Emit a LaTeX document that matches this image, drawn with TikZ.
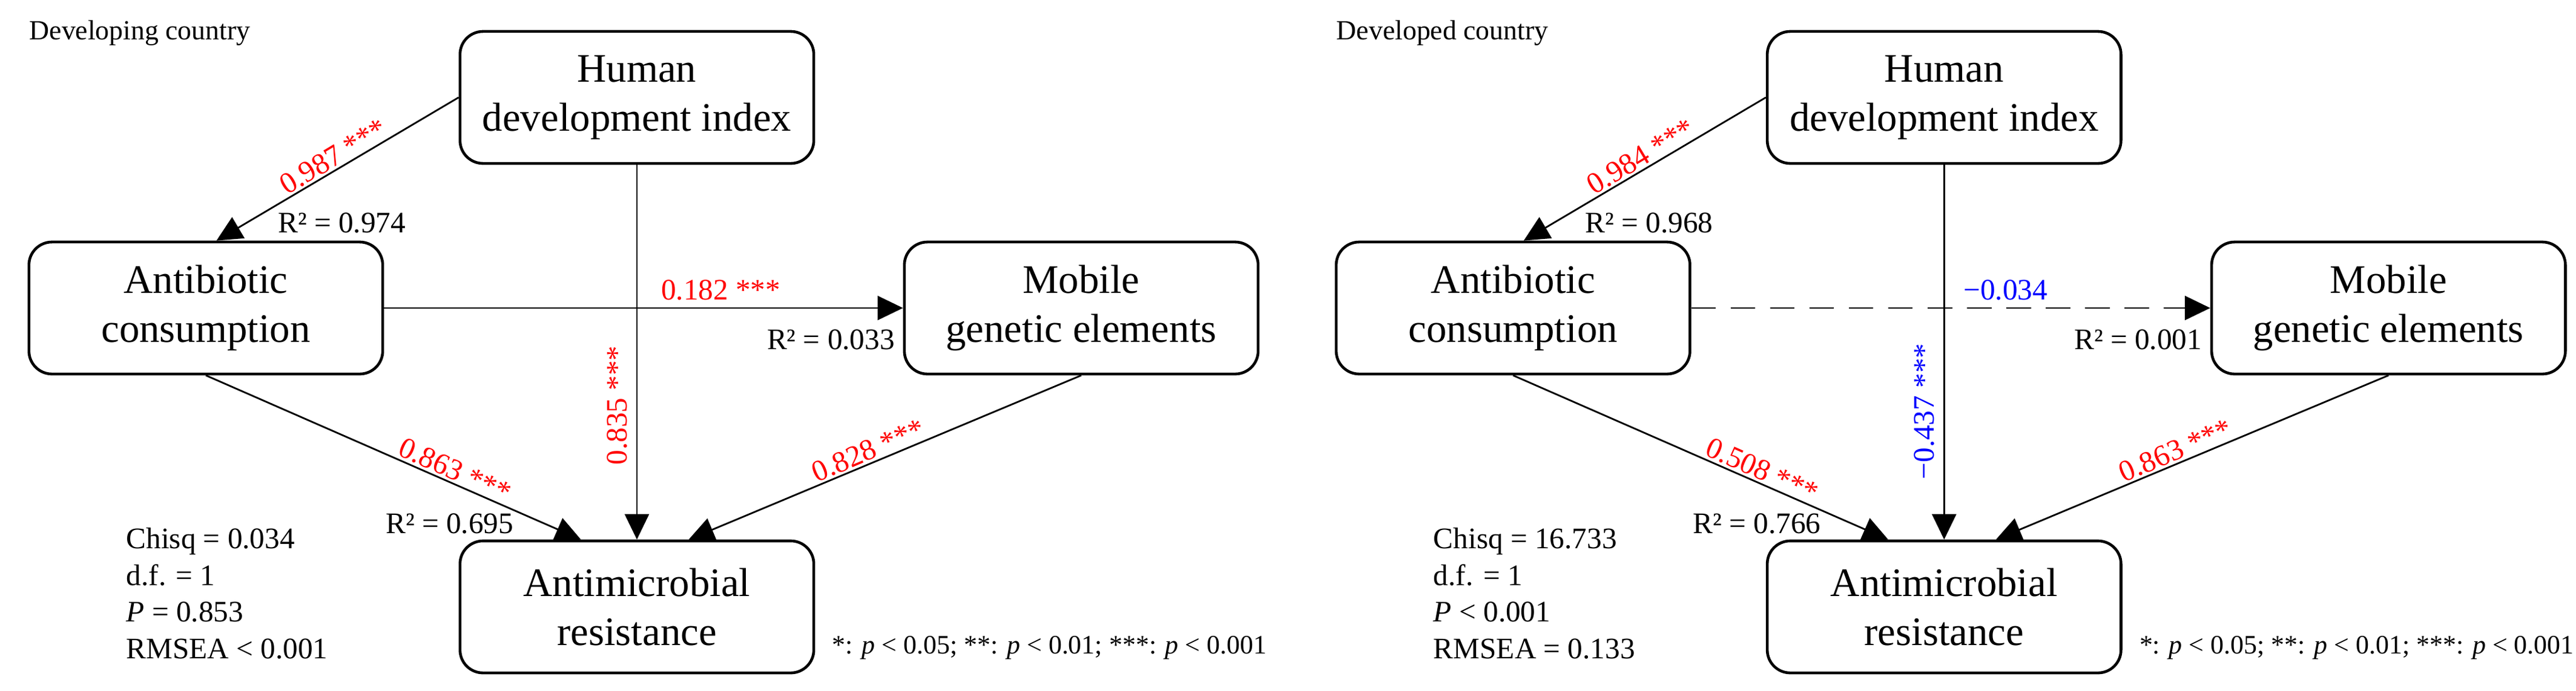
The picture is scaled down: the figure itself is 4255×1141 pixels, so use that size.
\documentclass[tikz,border=0pt]{standalone}
\usepackage{fontspec}
\setmainfont{Liberation Serif}
\usetikzlibrary{arrows.meta,calc}
\tikzset{
  box/.style={draw,line width=1.3pt,rounded corners=0.38cm,minimum width=5.84cm,minimum height=2.18cm,align=center,font=\fontsize{19}{23}\selectfont,inner sep=0pt},
  edge/.style={line width=0.8pt,-{Triangle[length=4.2mm,width=4mm]}},
  lab/.style={font=\fontsize{14}{16}\selectfont,inner sep=1pt},
  coef/.style={lab,text=red},
  ncoef/.style={lab,text=blue},
  note/.style={font=\fontsize{12.5}{15}\selectfont,inner sep=0pt,anchor=west},
}
\begin{document}
\begin{tikzpicture}[x=0.01cm,y=-0.01cm]
\useasboundingbox (0,0) rectangle (4255,1141);
% ---------- left panel ----------
\node[note,font=\fontsize{13}{15}\selectfont] (t1) at (48,55) {Developing country};
\node[box] (h1) at (1052,161) {Human\\development index};
\node[box] (a1) at (340,509) {Antibiotic\\consumption};
\node[box] (m1) at (1786,509) {Mobile\\genetic elements};
\node[box] (r1) at (1052,1003) {Antimicrobial\\resistance};
\coordinate (a1t) at ($(a1.north west)+(312,0)$);
\coordinate (r1a) at ($(r1.north west)+(202,0)$);
\coordinate (r1m) at ($(r1.north west)+(380,0)$);
\draw[edge] (h1.west) -- (a1t) node[coef,pos=0.49,rotate=31,anchor=south] {0.987 ***};
\draw[edge] (h1.south) -- (r1.north);
\draw[edge] (a1.east) -- (m1.west);
\draw[edge] (a1.south) -- (r1a) node[coef,pos=0.65,rotate=-24,anchor=south] {0.863 ***};
\draw[edge] (m1.south) -- (r1m) node[coef,pos=0.53,rotate=23,anchor=south] {0.828 ***};
\node[coef,rotate=90,anchor=south] (c1v) at (1040,670) {0.835 ***};
\node[coef,anchor=south west] (c1h) at (1088,500) {0.182 ***};
\node[lab,anchor=west] (q1a) at (455,368) {R² = 0.974};
\node[lab,anchor=east] (q1m) at (1482,561) {R² = 0.033};
\node[lab,anchor=west] (q1r) at (633,865) {R² = 0.695};
\node[lab,anchor=north west,align=left,inner sep=0pt,font=\fontsize{14}{17.2}\selectfont] (s1) at (208,872)
  {Chisq = 0.034\\d.f. = 1\\\textit{P} = 0.853\\RMSEA < 0.001};
\node[note] (f1) at (1374,1071) {*: \textit{p} < 0.05; **: \textit{p} < 0.01; ***: \textit{p} < 0.001};
% ---------- right panel ----------
\begin{scope}[xshift=21.58cm]
\node[note,font=\fontsize{13}{15}\selectfont] (t2) at (48,55) {Developed country};
\node[box] (h2) at (1052,161) {Human\\development index};
\node[box] (a2) at (340,509) {Antibiotic\\consumption};
\node[box] (m2) at (1786,509) {Mobile\\genetic elements};
\node[box] (r2) at (1052,1003) {Antimicrobial\\resistance};
\coordinate (a2t) at ($(a2.north west)+(312,0)$);
\coordinate (r2a) at ($(r2.north west)+(202,0)$);
\coordinate (r2m) at ($(r2.north west)+(380,0)$);
\draw[edge] (h2.west) -- (a2t) node[coef,pos=0.49,rotate=31,anchor=south] {0.984 ***};
\draw[edge] (h2.south) -- (r2.north);
\draw[edge,dash pattern=on 11.5pt off 7pt] (a2.east) -- (m2.west);
\draw[edge] (a2.south) -- (r2a) node[coef,pos=0.65,rotate=-24,anchor=south] {0.508 ***};
\draw[edge] (m2.south) -- (r2m) node[coef,pos=0.53,rotate=23,anchor=south] {0.863 ***};
\node[ncoef,rotate=90,anchor=south] (c2v) at (1040,680) {−0.437 ***};
\node[ncoef,anchor=south west] (c2h) at (1080,500) {−0.034};
\node[lab,anchor=west] (q2a) at (455,368) {R² = 0.968};
\node[lab,anchor=east] (q2m) at (1482,561) {R² = 0.001};
\node[lab,anchor=west] (q2r) at (633,865) {R² = 0.766};
\node[lab,anchor=north west,align=left,inner sep=0pt,font=\fontsize{14}{17.2}\selectfont] (s2) at (208,872)
  {Chisq = 16.733\\d.f. = 1\\\textit{P} < 0.001\\RMSEA = 0.133};
\node[note] (f2) at (1374,1071) {*: \textit{p} < 0.05; **: \textit{p} < 0.01; ***: \textit{p} < 0.001};
\end{scope}
\end{tikzpicture}
\end{document}
